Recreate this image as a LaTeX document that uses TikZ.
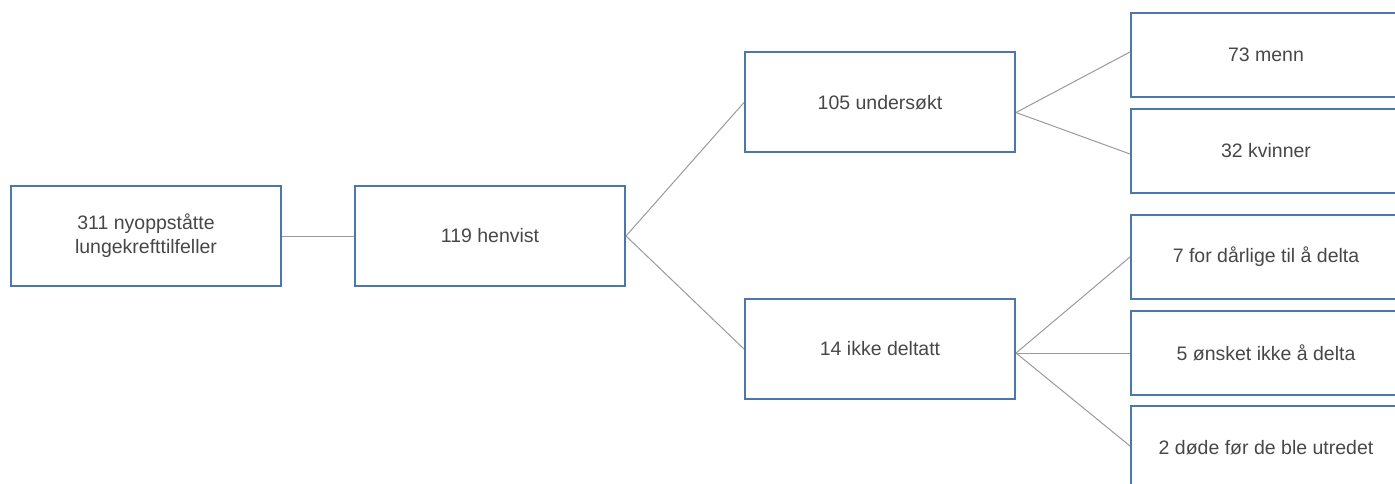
\documentclass[tikz,border=0pt]{standalone}
\usepackage{fontspec}
\setmainfont{Liberation Sans}
\usetikzlibrary{positioning}
\definecolor{boxblue}{HTML}{4A78AC}
\definecolor{linegray}{HTML}{9A9A9A}
\definecolor{textgray}{HTML}{474747}
\tikzset{
  stage/.style={draw=boxblue, line width=2pt, minimum width=270pt, minimum height=100pt,
    inner sep=0pt, align=center, text=textgray, font=\fontsize{19.5}{24}\selectfont},
  outcome/.style={stage, minimum height=84pt},
  link/.style={draw=linegray, line width=1pt},
}

\begin{document}
\begin{tikzpicture}[x=1pt, y=-1pt]

  \useasboundingbox (0,0) rectangle (1395,484);
  \clip (0,0) rectangle (1395,484);

  % Main chain
  \node[stage] (cases) at (146,236) {311 nyoppståtte\\lungekrefttilfeller};
  \node[stage, right=72pt of cases] (referred) {119 henvist};
  \node[stage] (examined) at (880,102.5) {105 undersøkt};
  \node[stage] (notpart) at (880,349) {14 ikke deltatt};

  % Outcomes
  \node[outcome] (men) at (1266,55) {73 menn};
  \node[outcome, below=10pt of men] (women) {32 kvinner};
  \node[outcome] (tooill) at (1266,257) {7 for dårlige til å delta};
  \node[outcome, below=10pt of tooill] (declined) {5 ønsket ikke å delta};
  \node[outcome, below=9pt of declined] (died) {2 døde før de ble utredet};

  % Connectors
  \draw[link] (cases) -- (referred);
  \draw[link] (referred.east) -- (examined.west);
  \draw[link] (referred.east) -- (notpart.west);
  \coordinate (splitA) at ([yshift=-10pt]examined.east);
  \draw[link] (splitA) -- ([yshift=3pt]men.west);
  \draw[link] (splitA) -- ([yshift=-3pt]women.west);
  \coordinate (splitB) at ([yshift=-4pt]notpart.east);
  \draw[link] (splitB) -- (tooill.west);
  \draw[link] (splitB) -- (declined.west);
  \draw[link] (splitB) -- ([yshift=2pt]died.west);

\end{tikzpicture}
\end{document}
